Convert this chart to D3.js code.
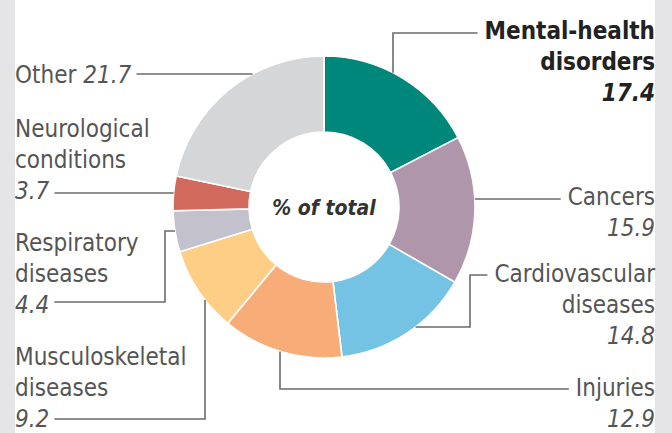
<!DOCTYPE html>
<html>
<head>
<meta charset="utf-8">
<script src="https://cdn.jsdelivr.net/npm/d3@7"></script>
<style>
  body { margin: 0; background: #fff; }
  text { font-family: "DejaVu Sans Condensed", "Liberation Sans Narrow", sans-serif; }
</style>
</head>
<body>
<div id="chart"></div>
<script>
// share of total, clockwise from 12 o'clock
const categories = ["Mental-health disorders", "Cancers", "Cardiovascular diseases", "Injuries",
  "Musculoskeletal diseases", "Respiratory diseases", "Neurological conditions", "Other"];
const values = [17.4, 15.9, 14.8, 12.9, 9.2, 4.4, 3.7, 21.7];
const valueLabels = ["17.4", "15.9", "14.8", "12.9", "9.2", "4.4", "3.7", "21.7"];
const labelLines = [
  ["Mental-health", "disorders"],
  ["Cancers"],
  ["Cardiovascular", "diseases"],
  ["Injuries"],
  ["Musculoskeletal", "diseases"],
  ["Respiratory", "diseases"],
  ["Neurological", "conditions"],
  ["Other"]
];
const colors = ["#00877b", "#b096ab", "#74c3e4", "#f8ad78", "#fecd86", "#c3c2cc", "#d16a5d", "#d5d6d8"];

const width = 672, height = 433;
const cx = 324, cy = 207, outerR = 151, innerR = 75;

const svg = d3.select("#chart").append("svg")
  .attr("width", width)
  .attr("height", height);

// page frame: grey gutters left and right
svg.append("rect").attr("x", 0).attr("y", 0).attr("width", 15).attr("height", height).attr("fill", "#e5e5e7");
svg.append("rect").attr("x", 655).attr("y", 0).attr("width", 17).attr("height", height).attr("fill", "#e5e5e7");

const pie = d3.pie().sort(null).value(d => d)(values);
const arc = d3.arc().innerRadius(innerR).outerRadius(outerR);

const g = svg.append("g").attr("transform", `translate(${cx},${cy})`);
g.selectAll("path")
  .data(pie)
  .join("path")
  .attr("d", arc)
  .attr("fill", (d, i) => colors[i])
  .attr("stroke", "#fff")
  .attr("stroke-width", 1.6);

g.append("text")
  .attr("x", 0)
  .attr("y", 8)
  .attr("text-anchor", "middle")
  .style("font-size", "21px")
  .style("font-weight", "bold")
  .style("font-style", "italic")
  .style("fill", "#333")
  .text("% of total");

// label layout: side, baselines, leader routing
const lineH = 31;
const layout = [
  { side: "right", y0: 39, bold: true, anchor: { v: 393, dir: -1 }, route: a => [[a[0], 33]], endY: 33 },
  { side: "right", y0: 205, anchor: { h: 199, dir: 1 }, route: a => [], endY: 199 },
  { side: "right", y0: 282, anchor: { h: 327, dir: 1 }, route: a => [[470, a[1]], [470, 275]], endY: 275 },
  { side: "right", y0: 396, anchor: { v: 280, dir: 1 }, route: a => [[a[0], 389]], endY: 389 },
  { side: "left", y0: 365, anchor: { v: 205, dir: 1 }, route: a => [[a[0], 419]], endY: 419 },
  { side: "left", y0: 251, anchor: { h: 231, dir: -1 }, route: a => [[165, a[1]], [165, 302]], endY: 302 },
  { side: "left", y0: 137, anchor: { h: 193, dir: -1 }, route: a => [], endY: 193 },
  { side: "left", y0: 83, inline: true, anchor: { h: 74, dir: -1 }, route: a => [], endY: 74 }
];

function edgePoint(an) {
  if (an.h !== undefined) {
    const dy = an.h - cy;
    return [cx + an.dir * Math.sqrt(outerR * outerR - dy * dy), an.h];
  }
  const dx = an.v - cx;
  return [an.v, cy + an.dir * Math.sqrt(outerR * outerR - dx * dx)];
}

const labels = svg.append("g");
const line = d3.line();

layout.forEach((L, i) => {
  const right = L.side === "right";
  const tx = right ? 655 : 15;
  const anchor = right ? "end" : "start";
  const fill = L.bold ? "#222" : "#555";
  const weight = L.bold ? "bold" : "normal";
  let textEdge = right ? Infinity : -Infinity;

  const t = labels.append("text")
    .attr("text-anchor", anchor)
    .style("font-size", "24px")
    .style("font-weight", weight)
    .style("fill", fill);

  if (L.inline) {
    t.attr("x", tx).attr("y", L.y0);
    t.append("tspan").text(labelLines[i][0] + " ");
    t.append("tspan").style("font-style", "italic").text(valueLabels[i]);
  } else {
    const rows = labelLines[i].concat([valueLabels[i]]);
    rows.forEach((r, k) => {
      t.append("tspan")
        .attr("x", tx)
        .attr("y", L.y0 + k * lineH)
        .style("font-style", k === rows.length - 1 ? "italic" : "normal")
        .text(r);
    });
  }

  // find the edge of the text row the leader meets
  t.selectAll("tspan").each(function () {
    const b = this.getBBox();
    if (Math.abs((b.y + b.height / 2) - L.endY) < 16 || L.inline) {
      textEdge = right ? Math.min(textEdge, b.x) : Math.max(textEdge, b.x + b.width);
    }
  });
  if (!isFinite(textEdge)) {
    const b = t.node().getBBox();
    textEdge = right ? b.x : b.x + b.width;
  }

  const a = edgePoint(L.anchor);
  const pts = [a].concat(L.route(a));
  pts.push([right ? textEdge - 7 : textEdge + 5, L.endY]);

  labels.append("path")
    .attr("d", line(pts))
    .attr("fill", "none")
    .attr("stroke", "#6b6b6b")
    .attr("stroke-width", 1.6);
});
</script>
</body>
</html>
